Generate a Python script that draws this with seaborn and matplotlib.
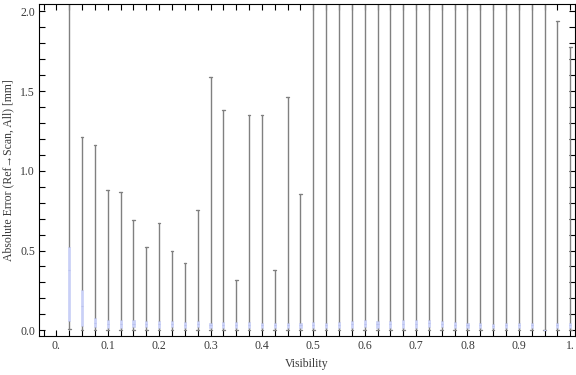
import numpy as np
import pandas as pd
import seaborn as sns
import matplotlib.pyplot as plt
from matplotlib.ticker import MultipleLocator
from matplotlib.colors import to_hex

visibility = [0.025, 0.05, 0.075, 0.1, 0.125, 0.15, 0.175, 0.2, 0.225, 0.25,
              0.275, 0.3, 0.325, 0.35, 0.375, 0.4, 0.425, 0.45, 0.475, 0.5,
              0.525, 0.55, 0.575, 0.6, 0.625, 0.65, 0.675, 0.7, 0.725, 0.75,
              0.775, 0.8, 0.825, 0.85, 0.875, 0.9, 0.925, 0.95, 0.975, 1.0]

whisker_max = [3.0, 1.21, 1.16, 0.88, 0.864, 0.694, 0.524, 0.675, 0.50, 0.42,
               0.757, 1.587, 1.379, 0.315, 1.348, 1.348, 0.38, 1.461, 0.857, 3.0,
               3.0, 3.0, 3.0, 3.0, 3.0, 3.0, 3.0, 3.0, 3.0, 3.0,
               3.0, 3.0, 3.0, 3.0, 3.0, 3.0, 3.0, 3.0, 1.939, 1.775]

q3 = [0.52, 0.25, 0.075, 0.063, 0.065, 0.065, 0.058, 0.058, 0.058, 0.053,
      0.058, 0.048, 0.052, 0.052, 0.054, 0.048, 0.048, 0.048, 0.048, 0.052,
      0.048, 0.054, 0.058, 0.063, 0.058, 0.058, 0.065, 0.065, 0.065, 0.058,
      0.052, 0.048, 0.048, 0.042, 0.044, 0.048, 0.048, 0.003, 0.048, 0.044]

median = [0.38, 0.15, 0.045, 0.038, 0.04, 0.042, 0.038, 0.037, 0.039, 0.034,
          0.039, 0.032, 0.034, 0.034, 0.035, 0.032, 0.032, 0.032, 0.03, 0.034,
          0.032, 0.035, 0.037, 0.042, 0.039, 0.037, 0.04, 0.04, 0.043, 0.039,
          0.034, 0.032, 0.032, 0.029, 0.03, 0.032, 0.032, 0.002, 0.032, 0.03]

q1 = [0.06, 0.027, 0.02, 0.017, 0.017, 0.021, 0.021, 0.017, 0.021, 0.017,
      0.021, 0.017, 0.017, 0.017, 0.017, 0.017, 0.017, 0.017, 0.0125, 0.017,
      0.017, 0.017, 0.017, 0.021, 0.017, 0.017, 0.017, 0.017, 0.021, 0.021,
      0.017, 0.017, 0.017, 0.017, 0.017, 0.017, 0.017, 0.001, 0.017, 0.017]

whisker_min = [0.008, 0.004, 0.004, 0.003, 0.003, 0.004, 0.004, 0.003, 0.004, 0.003,
               0.004, 0.002, 0.003, 0.003, 0.003, 0.003, 0.003, 0.003, 0.002, 0.003,
               0.003, 0.003, 0.003, 0.004, 0.003, 0.003, 0.003, 0.003, 0.004, 0.004,
               0.003, 0.003, 0.003, 0.003, 0.003, 0.003, 0.003, 0.0, 0.003, 0.003]

x_tick_values = [0.0, 0.1, 0.2, 0.3, 0.4, 0.5, 0.6, 0.7, 0.8, 0.9, 1.0]
x_tick_labels = ["0.", "0.1", "0.2", "0.3", "0.4", "0.5", "0.6", "0.7", "0.8", "0.9", "1."]
y_tick_values = [0.0, 0.5, 1.0, 1.5, 2.0]
y_tick_labels = ["0.0", "0.5", "1.0", "1.5", "2.0"]

# five-number summaries as tiny samples (whis=(0,100) reproduces them exactly)
rows = []
for v, a, b, c, d, e in zip(visibility, whisker_min, q1, median, q3, whisker_max):
    for val in (a, b, c, d, e):
        rows.append({"Visibility": v, "Error": val})
df = pd.DataFrame(rows)

sns.set_theme(style="white")
plt.rcParams["font.family"] = ["Liberation Serif", "DejaVu Serif"]

fig, ax = plt.subplots(figsize=(5.76, 3.75), dpi=100)
fig.subplots_adjust(left=0.068, right=0.998, bottom=0.104, top=0.9885)

box_color = "#c9d0f7"
whisk_color = "#808080"
sns.boxplot(data=df, x="Visibility", y="Error", native_scale=True,
            whis=(0, 100), width=0.17, ax=ax, showfliers=False,
            boxprops=dict(facecolor=box_color, edgecolor=box_color, linewidth=0.5),
            whiskerprops=dict(color=whisk_color, linewidth=1.0),
            capprops=dict(color=whisk_color, linewidth=1.0),
            medianprops=dict(color="#b9c1ee", linewidth=0.8))

# shrink whisker caps to the tiny ticks used in the reference
for ln in ax.lines:
    xd = np.asarray(ln.get_xdata(), dtype=float)
    yd = np.asarray(ln.get_ydata(), dtype=float)
    if len(xd) == 2 and yd[0] == yd[1] and to_hex(ln.get_color()) == whisk_color:
        cx = xd.mean()
        ln.set_xdata([cx - 0.0025, cx + 0.0025])

ax.set_xlim(-0.0335, 1.009)
ax.set_ylim(-0.036, 2.044)
ax.set_xticks(x_tick_values)
ax.set_xticklabels(x_tick_labels)
ax.set_yticks(y_tick_values)
ax.set_yticklabels(y_tick_labels)
ax.xaxis.set_minor_locator(MultipleLocator(0.025))
ax.yaxis.set_minor_locator(MultipleLocator(0.1))
ax.tick_params(which="both", direction="in", top=True, right=True,
               bottom=True, left=True, length=4, width=0.8, color="black",
               labelsize=8.5, labelcolor="#3a3a3a", pad=3)
for sp in ax.spines.values():
    sp.set_color("black")
    sp.set_linewidth(0.8)

ax.set_xlabel("Visibility", fontsize=8.5, color="#3a3a3a", labelpad=4)
ax.set_ylabel("Absolute Error (Ref\u2192Scan, All) [mm]", fontsize=8.5,
              color="#3a3a3a", labelpad=4)

fig.savefig("out.png", dpi=100)
